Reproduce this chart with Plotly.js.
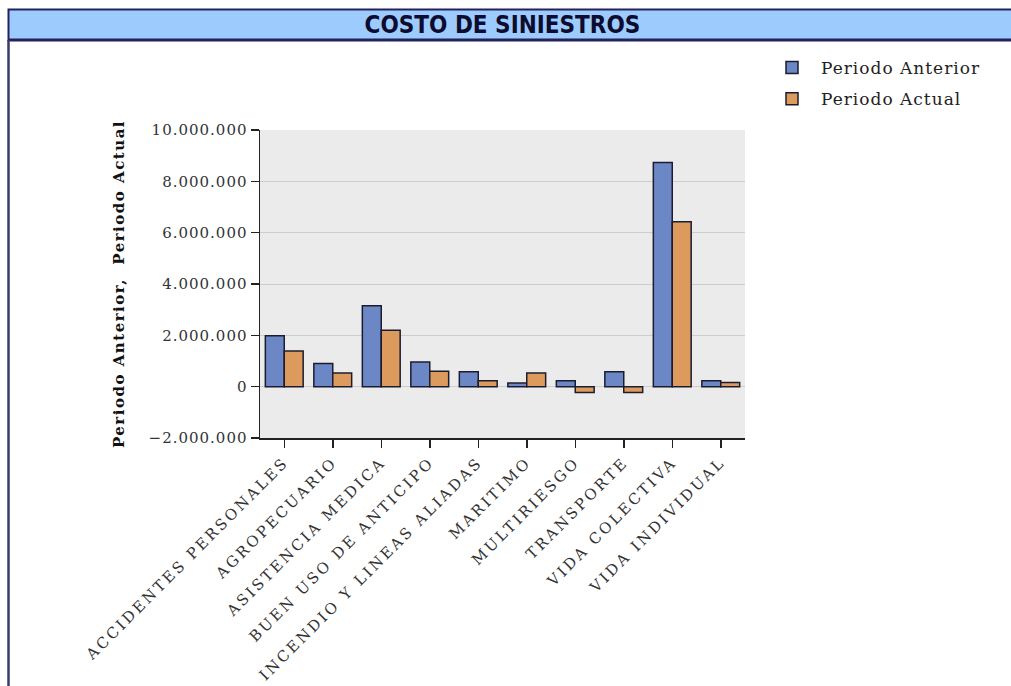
<!DOCTYPE html>
<html>
<head>
<meta charset="utf-8">
<script src="https://cdn.plot.ly/plotly-3.0.1.min.js"></script>
<style>
html,body{margin:0;padding:0;background:#fff;}
#chart{width:1011px;height:686px;}
#chart .xtick text{letter-spacing:2.7px;}
#chart .ytick text{letter-spacing:1px;}
#chart .legendtext{letter-spacing:1px;}
#chart .ytitle{letter-spacing:1.5px;}
</style>
</head>
<body>
<div id="chart"></div>
<script>
const categories = ["ACCIDENTES PERSONALES","AGROPECUARIO","ASISTENCIA MEDICA","BUEN USO DE ANTICIPO","INCENDIO Y LINEAS ALIADAS","MARITIMO","MULTIRIESGO","TRANSPORTE","VIDA COLECTIVA","VIDA INDIVIDUAL"];
const periodoAnterior = [1980000, 900000, 3150000, 960000, 580000, 140000, 230000, 580000, 8730000, 230000];
const periodoActual = [1390000, 530000, 2200000, 600000, 230000, 530000, -230000, -230000, 6430000, 160000];
const yTickVals = [-2000000, 0, 2000000, 4000000, 6000000, 8000000, 10000000];
const seriesNames = ["Periodo Anterior", "Periodo Actual"];

const L = 260, T = 130, W = 485, H = 308;
const px = v => (v - L) / W;
const py = v => (T + H - v) / H;

const serif = "DejaVu Serif, serif";
const navy = "#22225e";
const pad = "\u00A0".repeat(3);

const traces = [
  {type: "bar", name: seriesNames[0] + pad, x: categories, y: periodoAnterior, legendgroup: "a",
   marker: {color: "#6c87c6", line: {color: "#1c1c30", width: 1.5}}},
  {type: "bar", name: seriesNames[1] + pad, x: categories, y: periodoActual, legendgroup: "b",
   marker: {color: "#dc9a5c", line: {color: "#1c1c30", width: 1.5}}}
];

const layout = {
  width: 1011, height: 686,
  margin: {l: L, r: 1011 - L - W, t: T, b: 686 - T - H, pad: 0, autoexpand: false},
  paper_bgcolor: "#ffffff",
  plot_bgcolor: "#ebebeb",
  separators: ",.",
  barmode: "group",
  bargap: 0.22,
  bargroupgap: 0,
  showlegend: true,
  title: {text: "<b>COSTO DE SINIESTROS</b>", x: 0.497, xanchor: "center", y: 1 - 25 / 686, yanchor: "middle",
          font: {family: "DejaVu Sans Condensed, Liberation Sans Narrow, sans-serif", size: 24, color: "#0c0c30"}},
  legend: {x: px(763), y: py(50), xanchor: "left", yanchor: "top", bgcolor: "rgba(0,0,0,0)", itemwidth: 48,
           font: {family: serif, size: 17, color: "#222"}, traceorder: "grouped", tracegroupgap: 6},
  xaxis: {type: "category", showline: true, linecolor: "#222", linewidth: 1.5, ticks: "outside", ticklen: 8, tickcolor: "#222",
          tickwidth: 1.5, tickangle: -45, showgrid: false, tickfont: {family: serif, size: 15, color: "#333"}},
  yaxis: {range: [-2000000, 10000000], tickvals: yTickVals, tickformat: ",d", showline: true, linecolor: "#222", linewidth: 1.5,
          ticks: "outside", ticklen: 8, tickcolor: "#222", tickwidth: 1.5, showgrid: true, gridcolor: "#cdcdcd", zeroline: false,
          tickfont: {family: serif, size: 15, color: "#333"},
          title: {text: "<b>Periodo Anterior,  Periodo Actual</b>", standoff: 30, font: {family: serif, size: 15, color: "#111"}}},
  shapes: [
    {type: "rect", xref: "paper", yref: "paper", x0: px(8.5), x1: px(1030), y0: py(40), y1: py(9.5),
     fillcolor: "#9ecbfd", line: {color: navy, width: 2}, layer: "below"},
    {type: "line", xref: "paper", yref: "paper", x0: px(8.5), x1: px(1030), y0: py(40), y1: py(40),
     line: {color: navy, width: 3}},
    {type: "line", xref: "paper", yref: "paper", x0: px(8.5), x1: px(8.5), y0: py(40), y1: py(700),
     line: {color: "#3a3a70", width: 2.5}}
  ]
};

Plotly.newPlot("chart", traces, layout, {displayModeBar: false, staticPlot: true});
</script>
</body>
</html>
